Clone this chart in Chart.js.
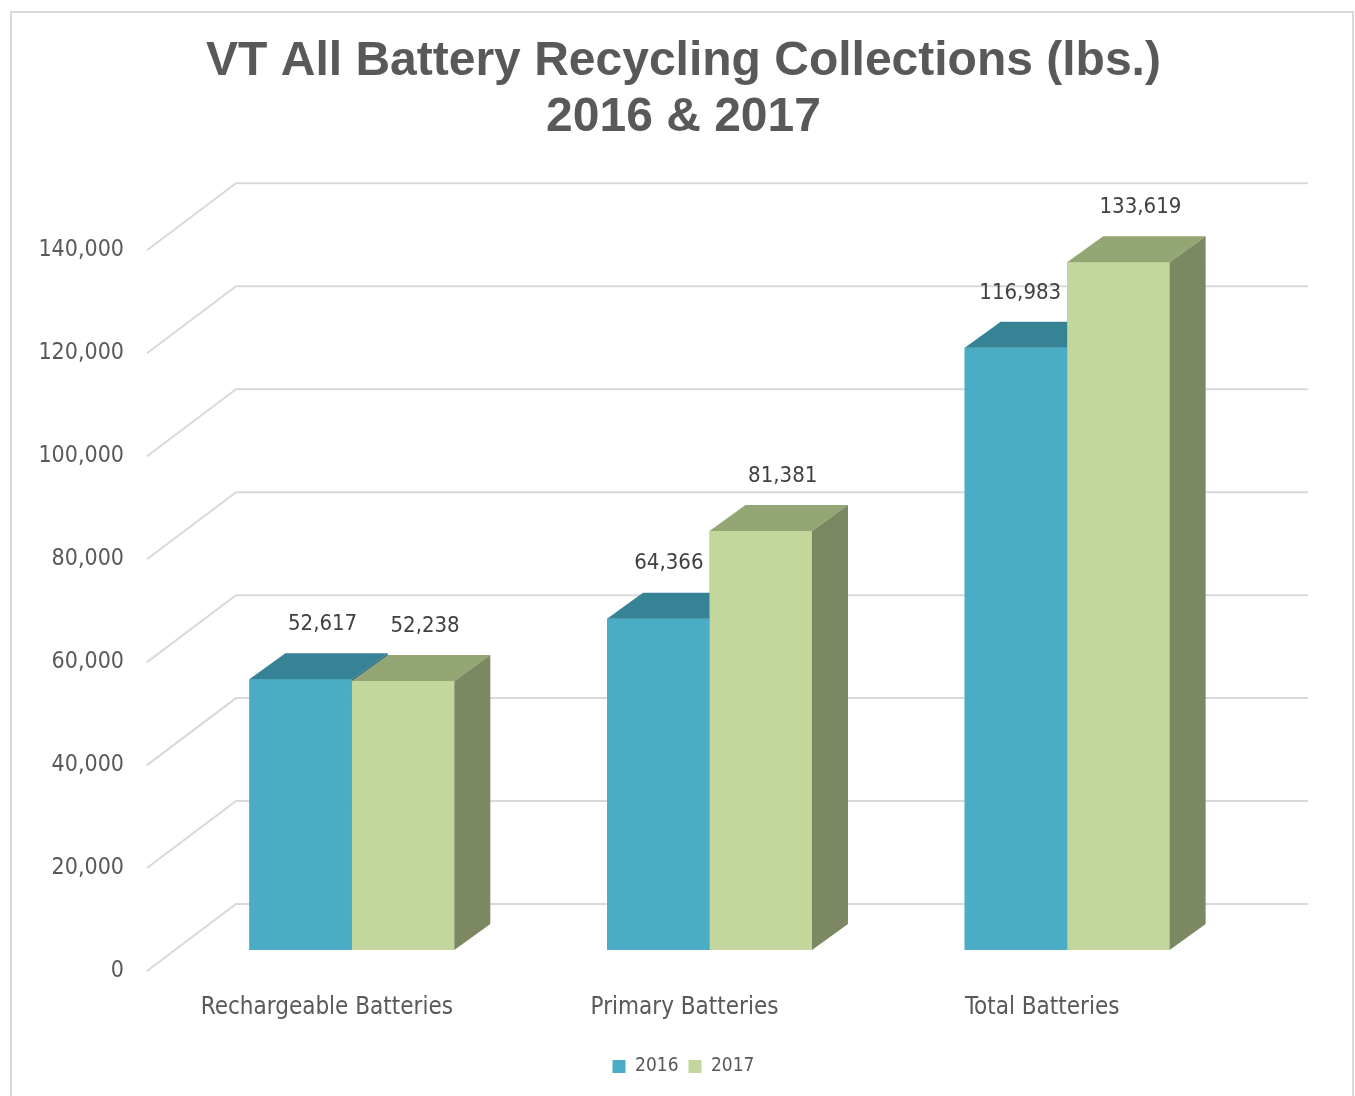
<!DOCTYPE html>
<html>
<head>
<meta charset="utf-8">
<script src="https://cdn.jsdelivr.net/npm/chart.js@4.4.0/dist/chart.umd.min.js"></script>
<style>
body{margin:0;background:#fff;}
canvas{display:block;}
</style>
</head>
<body>
<canvas id="batteryChart" width="1355" height="1096"></canvas>
<script>
// data
const categories = ["Rechargeable Batteries", "Primary Batteries", "Total Batteries"];
const seriesNames = ["2016", "2017"];
const values2016 = [52617, 64366, 116983];
const values2017 = [52238, 81381, 133619];
const yMin = 0;
const yMax = 140000;
const yStep = 20000;

const narrow = "'Liberation Sans Narrow', 'Arial Narrow', 'DejaVu Sans Condensed', sans-serif";
const frontColors = ['#4BACC6', '#C3D69B'];
const topColors = ['#368396', '#94A673'];
const sideColors = ['#2E7083', '#7B8862'];
const depth = {dx: 36, dy: -26};

// white background + light border of the chart box
const frame = {
    id: 'frame',
    beforeDraw(chart) {
        let ctx = chart.ctx;
        ctx.save();
        ctx.fillStyle = '#fff';
        ctx.fillRect(0, 0, chart.width, chart.height);
        ctx.strokeStyle = '#d9d9d9';
        ctx.lineWidth = 2;
        ctx.strokeRect(11, 12, 1342, 1100);
        ctx.restore();
    }
};

// back wall grid lines + floor diagonals
const wallGrid = {
    id: 'wallGrid',
    beforeDatasetsDraw(chart) {
        let ctx = chart.ctx;
        let area = chart.chartArea;
        let y = chart.scales.y;
        ctx.save();
        ctx.strokeStyle = '#d9d9d9';
        ctx.lineWidth = 2;
        for (let v = yMin; v <= yMax; v += yStep) {
            let py = y.getPixelForValue(v);
            ctx.beginPath();
            ctx.moveTo(area.left - 26, py + 21);
            ctx.lineTo(area.left + 63, py - 46);
            ctx.lineTo(area.right + 62, py - 46);
            ctx.stroke();
        }
        ctx.restore();
    }
};

// redraw bars in series order and add top / side faces,
// so that the 2017 bar covers the side of the 2016 bar
const bars3d = {
    id: 'bars3d',
    afterDatasetsDraw(chart) {
        let ctx = chart.ctx;
        ctx.save();
        chart.data.datasets.forEach(function(ds, i) {
            let meta = chart.getDatasetMeta(i);
            meta.data.forEach(function(bar) {
                bar.draw(ctx);
                let x0 = bar.x - bar.width / 2;
                let x1 = bar.x + bar.width / 2;
                let top = bar.y;
                let base = bar.base;
                ctx.fillStyle = topColors[i];
                ctx.beginPath();
                ctx.moveTo(x0, top);
                ctx.lineTo(x1, top);
                ctx.lineTo(x1 + depth.dx, top + depth.dy);
                ctx.lineTo(x0 + depth.dx, top + depth.dy);
                ctx.closePath();
                ctx.fill();
                ctx.fillStyle = sideColors[i];
                ctx.beginPath();
                ctx.moveTo(x1, top);
                ctx.lineTo(x1 + depth.dx, top + depth.dy);
                ctx.lineTo(x1 + depth.dx, base + depth.dy);
                ctx.lineTo(x1, base);
                ctx.closePath();
                ctx.fill();
            });
        });
        ctx.restore();
    }
};

// value labels above the bars
const valueLabels = {
    id: 'valueLabels',
    afterDatasetsDraw(chart) {
        let ctx = chart.ctx;
        ctx.save();
        ctx.font = "22px " + narrow;
        ctx.fillStyle = '#404040';
        ctx.textAlign = 'center';
        ctx.textBaseline = 'middle';
        chart.data.datasets.forEach(function(ds, di) {
            let meta = chart.getDatasetMeta(di);
            meta.data.forEach(function(bar, j) {
                let txt = ds.data[j].toLocaleString('en-US');
                let w = ctx.measureText(txt).width;
                let cx = bar.x + 22;
                // keep clear of a taller neighbour bar on the right
                let next = chart.data.datasets[di + 1];
                if (next) {
                    let nb = chart.getDatasetMeta(di + 1).data[j];
                    let nLeft = nb.x - nb.width / 2;
                    if (nb.y < bar.y - 40 && cx + w / 2 > nLeft - 6) cx = nLeft - 6 - w / 2;
                }
                ctx.fillText(txt, cx, bar.y - 55);
            });
        });
        ctx.restore();
    }
};

let ctx = document.getElementById('batteryChart');
let batteryChart = new Chart(ctx, {
    type: 'bar',
    data: {
        labels: categories,
        datasets: [{
            label: seriesNames[0],
            data: values2016,
            backgroundColor: frontColors[0]
        }, {
            label: seriesNames[1],
            data: values2017,
            backgroundColor: frontColors[1]
        }]
    },
    options: {
        responsive: false,
        animation: false,
        categoryPercentage: 0.573,
        barPercentage: 1,
        layout: {padding: {left: 13, right: 1, top: 0, bottom: 10}},
        scales: {
            x: {
                grid: {display: false, drawTicks: false},
                border: {display: false},
                ticks: {
                    font: {family: narrow, size: 24},
                    color: '#595959',
                    padding: 43,
                    labelOffset: -25,
                    maxRotation: 0
                },
                afterFit: function(s) { s.height = 97; }
            },
            y: {
                min: yMin,
                max: yMax,
                grid: {display: false, drawTicks: false},
                border: {display: false},
                ticks: {
                    stepSize: yStep,
                    font: {family: narrow, size: 23},
                    color: '#595959',
                    padding: 49,
                    labelOffset: 21,
                    callback: function(v) { return v.toLocaleString('en-US'); }
                },
                afterFit: function(s) { s.width = 160; }
            },
            spacer: {
                type: 'linear',
                position: 'right',
                grid: {display: false},
                border: {display: false},
                ticks: {display: false},
                afterFit: function(s) { s.width = 108; }
            }
        },
        plugins: {
            title: {
                display: true,
                text: ['VT All Battery Recycling Collections (lbs.)', '2016 & 2017'],
                color: '#595959',
                font: {family: "'Liberation Sans', Arial, sans-serif", size: 48, weight: 'bold', lineHeight: 1.17},
                padding: {top: 34, bottom: 83}
            },
            legend: {
                position: 'bottom',
                labels: {
                    boxWidth: 13,
                    boxHeight: 13,
                    padding: 10,
                    color: '#595959',
                    font: {family: narrow, size: 19}
                }
            },
            tooltip: {enabled: false}
        }
    },
    plugins: [frame, wallGrid, bars3d, valueLabels]
});
</script>
</body>
</html>
